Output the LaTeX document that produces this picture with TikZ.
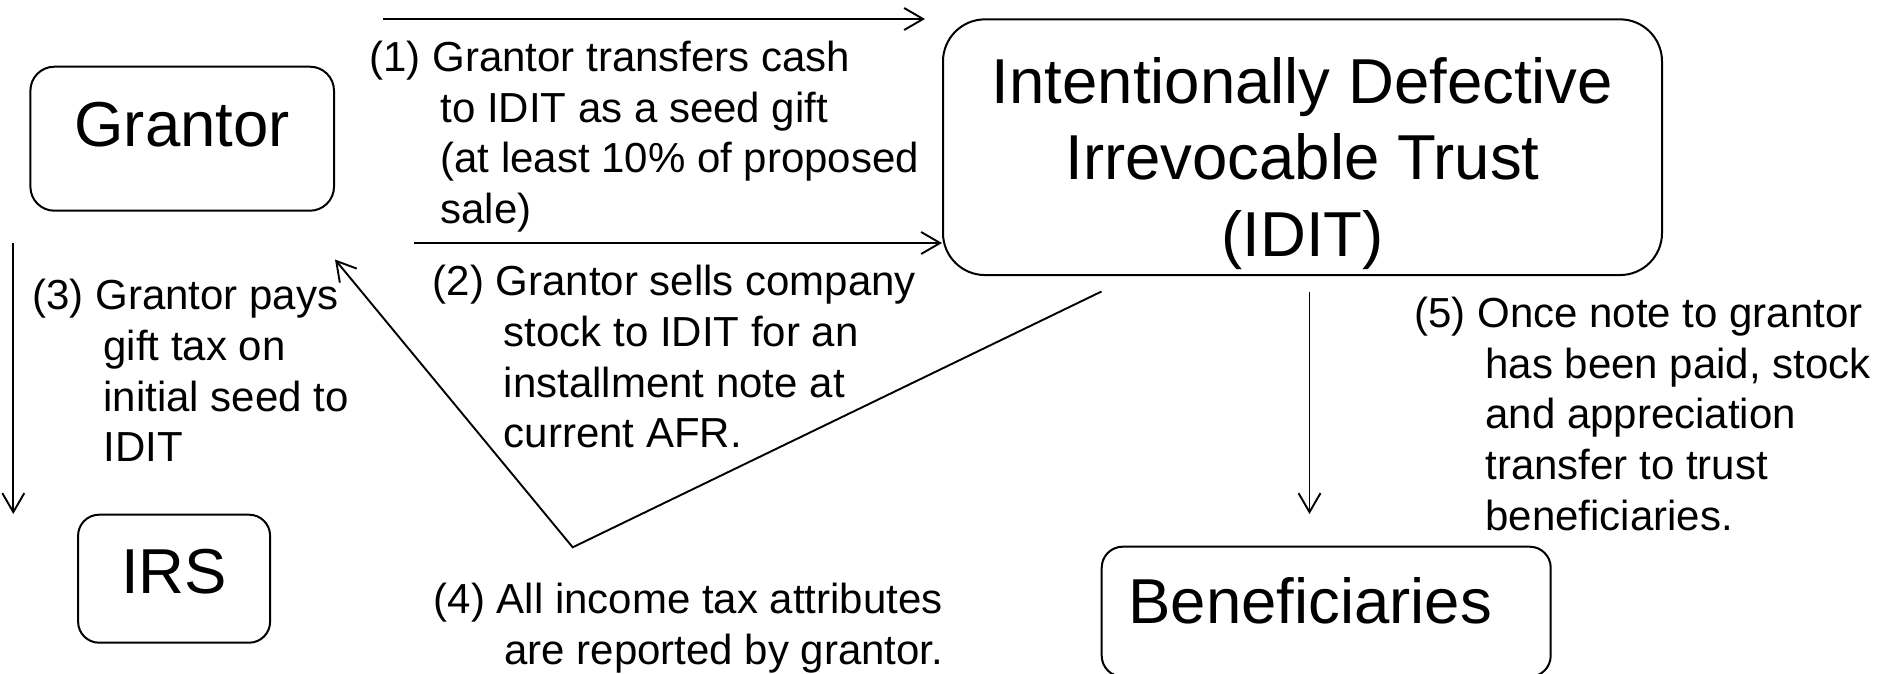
\documentclass[tikz,border=0pt]{standalone}
\usepackage{fontspec}
\setmainfont{Liberation Sans}
\usetikzlibrary{arrows.meta}

\newcommand{\stepin}[1][71pt]{\hspace*{#1}}

\begin{document}
\begin{tikzpicture}[x=1pt, y=-1pt,
    box/.style={draw, rectangle, line width=2pt, inner sep=0pt, font=\fontsize{63.5}{76}\selectfont},
    note/.style={align=left, anchor=north west, inner sep=0pt, font=\fontsize{42}{50.7}\selectfont},
    arr/.style={line width=1.9pt, -{Straight Barb[length=19pt, width=22pt]}}]
    \useasboundingbox (0,0) rectangle (1885,674);

    % Boites principales
    \node[box, minimum width=303.6pt, minimum height=144pt, rounded corners=24pt] (grantor) at (182.2,138.7) {\raisebox{-7.3pt}[0pt][0pt]{Grantor}};
    \node[box, minimum width=192pt, minimum height=128pt, rounded corners=21pt] (irs) at (174.1,578.7) {\raisebox{-14.3pt}[0pt][0pt]{IRS}};
    \node[box, minimum width=719pt, minimum height=255.7pt, rounded corners=42pt] (idit) at (1302.5,147.2) {\raisebox{43.2pt}[0pt][0pt]{\begin{tabular}[t]{@{}c@{}}Intentionally Defective\\Irrevocable Trust\\(IDIT)\end{tabular}}};
    \node[box, minimum width=449pt, minimum height=130pt, rounded corners=21pt] (benef) at (1326.2,611.7) {\raisebox{-11.3pt}[0pt][0pt]{Beneficiaries\hspace{32pt}}};

    % Etapes
    \node[note] (step1) at (369.2,40.9) {(1) Grantor transfers cash\\\stepin to IDIT as a seed gift\\\stepin (at least 10\% of proposed\\\stepin sale)};
    \node[note] (step2) at (432.7,265.2) {(2) Grantor sells company\\\stepin stock to IDIT for an\\\stepin installment note at\\\stepin current AFR.};
    \node[note] (step3) at (32.2,279.2) {(3) Grantor pays\\\stepin gift tax on\\\stepin initial seed to\\\stepin IDIT};
    \node[note] (step4) at (433.5,582.9) {(4) All income tax attributes\\\stepin[59pt] are reported by grantor.};
    \node[note] (step5) at (1414.2,296.7) {(5) Once note to grantor\\\stepin has been paid, stock\\\stepin and appreciation\\\stepin transfer to trust\\\stepin beneficiaries.};

    % Fleches
    \coordinate (giftfrom) at (383,19);
    \coordinate (giftto) at (925,19);
    \coordinate (salefrom) at (414,243);
    \coordinate (taxfrom) at (13.3,243);
    \coordinate (taxto) at (13.3,514);
    \coordinate (incfrom) at (1101.5,291.5);
    \coordinate (incbend) at (572.7,547.3);
    \coordinate (incto) at (335,259.5);
    \coordinate (payfrom) at (1309.5,291.5);
    \coordinate (payto) at (1309.5,514);

    \draw[arr] (giftfrom) -- (giftto);
    \draw[arr] (salefrom) -- (salefrom -| idit.west);
    \draw[arr] (taxfrom) -- (taxto);
    \draw[arr] (incfrom) -- (incbend) -- (incto);
    \draw[arr] (payfrom) -- (payto);
\end{tikzpicture}
\end{document}
